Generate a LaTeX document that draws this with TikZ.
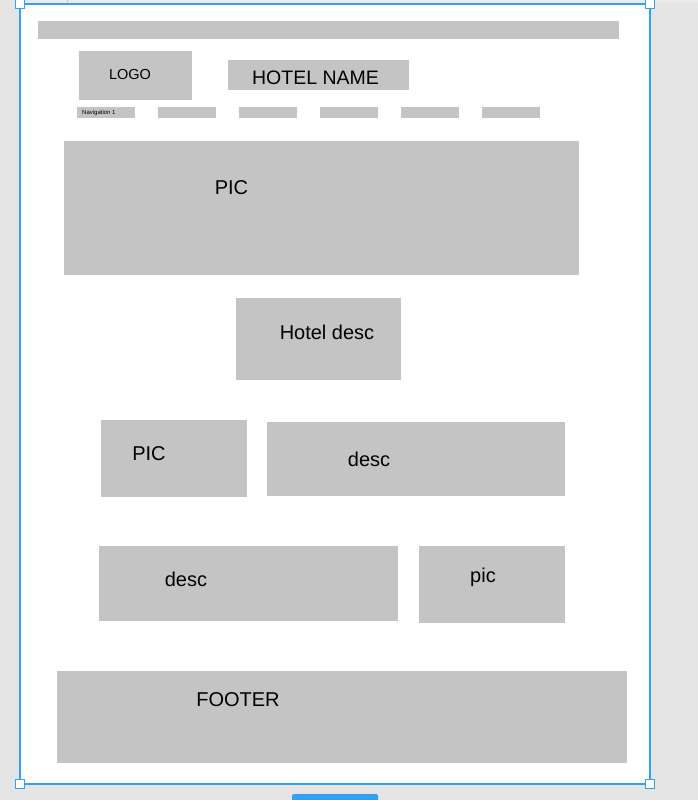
\documentclass[tikz,border=0pt]{standalone}
\usepackage{fontspec}
\setmainfont{Liberation Sans}
\begin{document}
\begin{tikzpicture}[x=1pt,y=-1pt,
  block/.style={fill=boxgray,draw=none},
  lbl/.style={font=\fontsize{20}{20}\selectfont,text=black,inner sep=0pt},
  handle/.style={draw=selblue,fill=white,line width=1.3pt,minimum size=9.5pt,inner sep=0pt},
]
\definecolor{boxgray}{HTML}{C4C4C4}
\definecolor{canvas}{HTML}{E5E5E5}
\definecolor{selblue}{HTML}{2FA2F5}
% canvas and bounds
\fill[canvas] (0,0) rectangle (698,800);
\useasboundingbox (0,0) rectangle (698,800);
% frame title strip
\fill[black!8] (24,0) rectangle (698,3);
\draw[black!20,line width=0.6pt] (67,0) -- (67,3);
% frame
\fill[white] (20,4) rectangle (650,784);
% header bar
\fill[block] (38,21) rectangle (619,39);
% logo and name
\fill[block] (79,51) rectangle (192,100);
\node[lbl,font=\fontsize{14.5}{14.5}\selectfont] (logo) at (130,75) {LOGO};
\fill[block] (228,60) rectangle (409,90);
\node[lbl,font=\fontsize{19.5}{19.5}\selectfont] (hname) at (315.5,77.5) {HOTEL NAME};
% navigation
\foreach \i/\x in {0/77,1/158,2/239,3/320,4/401,5/482}{
  \fill[block] (\x,107) rectangle (\x+58,118);
}
\node[font=\fontsize{6}{6}\selectfont,anchor=west,inner sep=0pt] (nav1) at (82,112.5) {Navigation 1};
% hero picture
\fill[block] (64,141) rectangle (579,275);
\node[lbl] (pic1) at (231.5,187.5) {PIC};
% hotel description
\fill[block] (236,298) rectangle (401,380);
\node[lbl] (hdesc) at (327,332.5) {Hotel desc};
% first row
\fill[block] (101,420) rectangle (247,497);
\node[lbl] (pic2) at (149,453.5) {PIC};
\fill[block] (267,422) rectangle (565,496);
\node[lbl] (desc1) at (369,459.5) {desc};
% second row
\fill[block] (99,546) rectangle (398,621);
\node[lbl] (desc2) at (186,579.5) {desc};
\fill[block] (419,546) rectangle (565,623);
\node[lbl] (pic3) at (483,577.5) {pic};
% footer
\fill[block] (57,671) rectangle (627,763);
\node[lbl] (footer) at (238,700) {FOOTER};
% selection outline and handles
\draw[selblue,line width=1.5pt] (20,4) rectangle (650,784);
\node[handle] (h1) at (20,4) {};
\node[handle] (h2) at (650,4) {};
\node[handle] (h3) at (20,784) {};
\node[handle] (h4) at (650,784) {};
% size badge under the frame
\begin{scope}
\clip (0,0) rectangle (698,800);
\fill[selblue,rounded corners=2pt] (292,794) rectangle (378,812);
\end{scope}
\end{tikzpicture}
\end{document}
